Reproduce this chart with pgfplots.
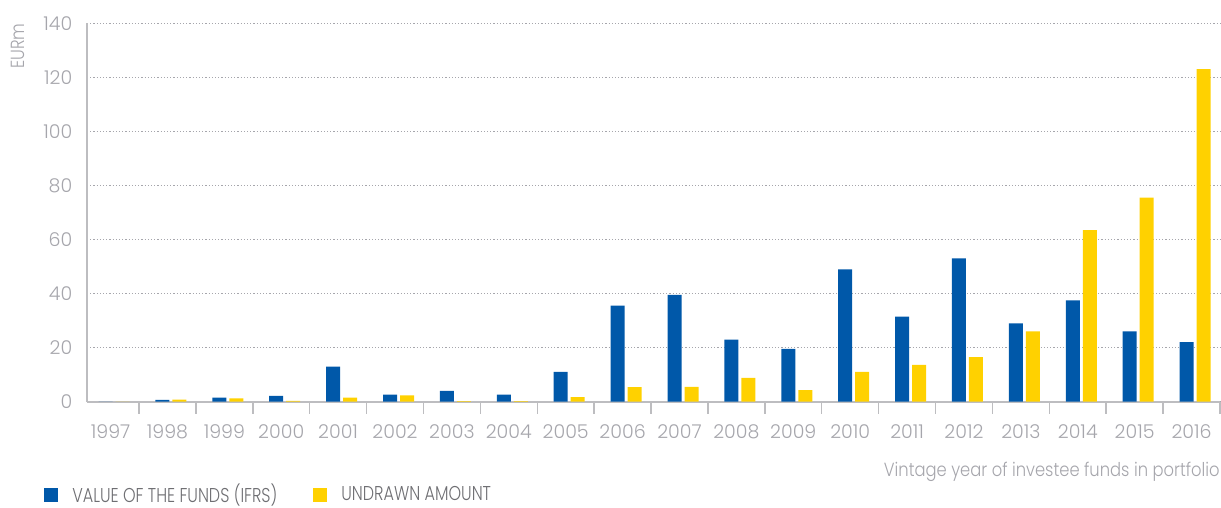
\documentclass[border=0pt]{standalone}
\usepackage{fontspec}
\setmainfont{Poppins Light}
\newfontfamily\legfont{Poppins Light}[FakeStretch=0.8]
\newfontfamily\labfont{Poppins Light}[FakeStretch=0.86]
\usepackage{pgfplots}
\pgfplotsset{compat=1.18}
\definecolor{fundblue}{HTML}{0058A9}
\definecolor{undrawn}{HTML}{FFD100}
\definecolor{txtgray}{HTML}{A6A6AC}
\definecolor{leggray}{HTML}{6E6E72}
\definecolor{axgray}{HTML}{BDBDC0}
\begin{document}
\begin{tikzpicture}
\fontsize{9.5}{11}\selectfont
\begin{axis}[
  scale only axis, clip=false,
  width=566.5pt, height=189.2pt,
  ybar, bar width=7pt,
  xmin=-0.414, xmax=19.5,
  ymin=0, ymax=140,
  ytick={0,20,...,140},
  xtick={0,...,19},
  xticklabels={1997,1998,1999,2000,2001,2002,2003,2004,2005,2006,2007,2008,2009,2010,2011,2012,2013,2014,2015,2016},
  minor xtick={0.5,1.5,...,19.5},
  major tick length=0pt,
  minor tick length=6pt,
  tick align=outside,
  tick style={axgray, line width=0.75pt},
  axis x line*=bottom, axis y line*=left,
  axis line style={axgray, line width=1pt},
  ymajorgrids,
  grid style={txtgray, line width=0.5pt, dash pattern=on 0.6pt off 1pt},
  ticklabel style={txtgray, font=\fontsize{9.5}{11}\selectfont},
  xticklabel style={yshift=-8pt},
  yticklabel style={xshift=-4pt},
  /pgf/number format/assume math mode=true,
  legend style={at={(-0.038,-0.246)}, anchor=west, draw=none, fill=none,
    inner sep=0pt, legend columns=2, text=leggray,
    font=\legfont\fontsize{10}{11}\selectfont,
    /tikz/every even column/.append style={column sep=16pt}},
  legend image code/.code={\fill[#1, draw=none] (0pt,-3.5pt) rectangle (7pt,3.5pt); \path (12pt,0pt);},
  legend cell align=left,
]
\addplot[fill=fundblue, draw=none, bar shift=-2.5pt] coordinates {
  (0,0) (1,0.7) (2,1.5) (3,2.2) (4,13) (5,2.6) (6,4) (7,2.6) (8,11) (9,35.5)
  (10,39.5) (11,23) (12,19.5) (13,49) (14,31.5) (15,53) (16,29) (17,37.5) (18,26) (19,22)};
\addplot[fill=undrawn, draw=none, bar shift=6pt] coordinates {
  (0,0) (1,0.8) (2,1.2) (3,0.3) (4,1.5) (5,2.3) (6,0.2) (7,0.2) (8,1.7) (9,5.4)
  (10,5.5) (11,8.8) (12,4.3) (13,11) (14,13.6) (15,16.5) (16,26) (17,63.5) (18,75.5) (19,123)};
\legend{VALUE OF THE FUNDS (IFRS), UNDRAWN AMOUNT}
\node[anchor=east, text=txtgray, inner sep=0pt, yshift=-35pt, font=\labfont\fontsize{9.5}{11}\selectfont] at (rel axis cs:1,0) {Vintage year of investee funds in portfolio};
\node[xshift=-34.5pt, rotate=90, text=txtgray, inner sep=0pt, font=\labfont\fontsize{9.5}{11}\selectfont] at (rel axis cs:0,0.94) {EURm};
\end{axis}
\pgfresetboundingbox
\useasboundingbox ([shift={(-43.5pt,-53.15pt)}]current axis.south west) rectangle ([shift={(0.5pt,11.65pt)}]current axis.north east);
\end{tikzpicture}
\end{document}
